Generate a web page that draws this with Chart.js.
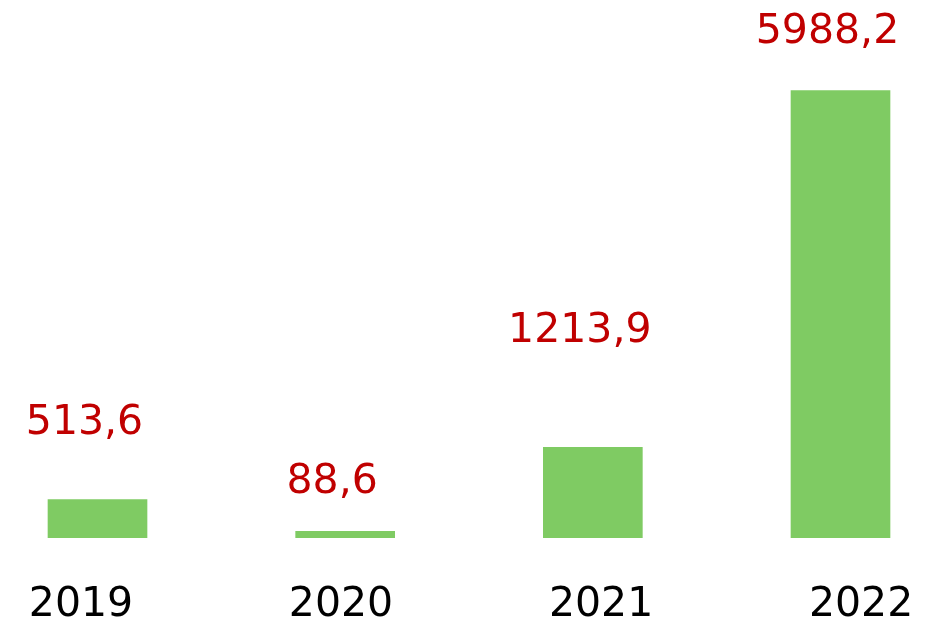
<!DOCTYPE html>
<html>
<head>
<meta charset="utf-8">
<script src="https://cdn.jsdelivr.net/npm/chart.js@4.4.1/dist/chart.umd.min.js"></script>
<style>
  html, body { margin:0; padding:0; background:#fff; }
  #wrap { width:936px; height:623px; }
</style>
</head>
<body>
<div id="wrap"><canvas id="c"></canvas></div>
<script>
const years = ['2019', '2020', '2021', '2022'];
const values = [513.6, 88.6, 1213.9, 5988.2];

// how far above each bar top its value label sits (px)
const labelLift = [76, 49, 116, 58];

const valueLabels = {
  id: 'valueLabels',
  afterDatasetsDraw(chart){
    const ctx = chart.ctx;
    const meta = chart.getDatasetMeta(0);
    ctx.save();
    ctx.font = '41px "DejaVu Sans"';
    ctx.fillStyle = '#c00000';
    ctx.textAlign = 'center';
    ctx.textBaseline = 'middle';
    meta.data.forEach((bar, i)=>{
      const txt = values[i].toFixed(1).replace('.', ',');
      ctx.fillText(txt, bar.x - 13, bar.y - labelLift[i]);
    });
    ctx.restore();
  }
};

new Chart(document.getElementById('c'), {
  type: 'bar',
  data: {
    datasets: [{
      data: years.map((y, i)=>({x: i, y: values[i]})),
      backgroundColor: '#7fcb63',
      barThickness: 99,
      borderWidth: 0
    }]
  },
  options: {
    responsive: true, maintainAspectRatio: false, animation: false,
    layout: { padding: 0 },
    plugins: { legend: {display:false}, tooltip: {enabled:false} },
    scales: {
      x: { type:'linear', min:-0.3937, max:3.3856, offset:false, display:false },
      // separate axis just for the year labels (they sit a bit off the bar centres)
      x2: {
        type:'linear', position:'bottom', min:-0.3115, max:3.288, offset:false,
        afterBuildTicks: s=>{ s.ticks = years.map((y, i)=>({value:i})); },
        afterFit: s=>{ s.height = 85; s.paddingLeft = 0; s.paddingRight = 0; },
        grid: {display:false, drawTicks:false}, border: {display:false},
        ticks: { color:'#000', padding:43, maxRotation:0, autoSkip:false,
          font:{family:'DejaVu Sans', size:41, lineHeight:1.2},
          callback: v=>years[v] }
      },
      y: { min:0, max:7200, display:false }
    }
  },
  plugins: [valueLabels]
});
</script>
</body>
</html>
